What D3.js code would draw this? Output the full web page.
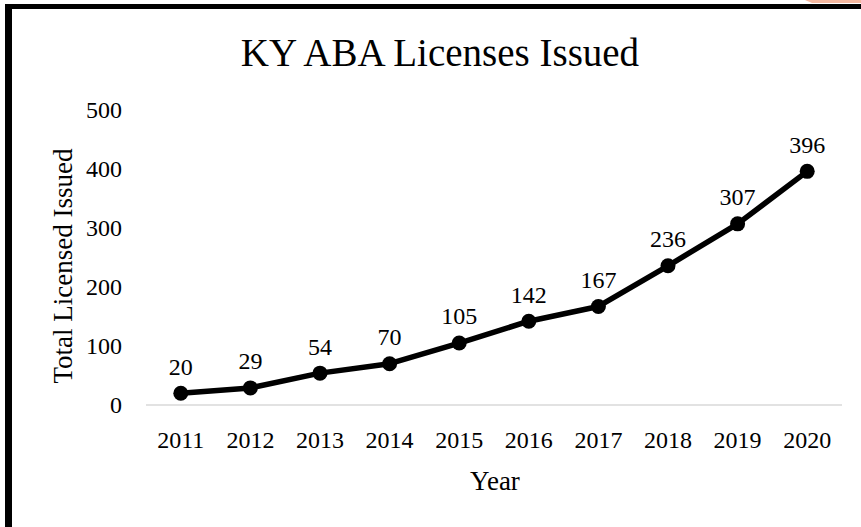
<!DOCTYPE html>
<html>
<head>
<script src="https://cdn.jsdelivr.net/npm/d3@7"></script>
<style>
  body { margin: 0; background: #fff; }
  svg text { font-family: "Liberation Serif", "DejaVu Serif", serif; fill: #000; }
  .grid line { stroke: #d9d9d9; stroke-width: 1.5; }
</style>
</head>
<body>
<svg id="chart" width="861" height="527"></svg>
<script>
var years = ["2011", "2012", "2013", "2014", "2015", "2016", "2017", "2018", "2019", "2020"];
var licenses = [20, 29, 54, 70, 105, 142, 167, 236, 307, 396];
var yTicks = [0, 100, 200, 300, 400, 500];

var svg = d3.select("#chart");

// frame bits from the screenshot
svg.append("path").attr("d", "M805,0 L861,0 L861,3 L812,3 Z").attr("fill", "#f4b8a0");
svg.append("rect").attr("x", 5).attr("y", 4).attr("width", 856).attr("height", 5).attr("fill", "#000");
svg.append("rect").attr("x", 5).attr("y", 4).attr("width", 7).attr("height", 523).attr("fill", "#000");

var x = d3.scaleBand().domain(years).range([146, 842]);
var y = d3.scaleLinear().domain([0, 500]).range([405, 110]);

// baseline gridline
svg.append("g").attr("class", "grid")
  .append("line")
  .attr("x1", x.range()[0]).attr("x2", x.range()[1])
  .attr("y1", y(0)).attr("y2", y(0));

// y tick labels
svg.append("g").selectAll("text").data(yTicks).enter().append("text")
  .attr("x", 122).attr("y", function(d){ return y(d); })
  .attr("dy", "0.35em").attr("text-anchor", "end")
  .style("font-size", "24px")
  .text(function(d){ return d; });

// x tick labels
svg.append("g").selectAll("text").data(years).enter().append("text")
  .attr("x", function(d){ return x(d) + x.bandwidth() / 2; })
  .attr("y", 440).attr("dy", "0.35em").attr("text-anchor", "middle")
  .style("font-size", "24px")
  .text(function(d){ return d; });

var pts = years.map(function(d, i){ return {year: d, v: licenses[i]}; });

var line = d3.line()
  .x(function(d){ return x(d.year) + x.bandwidth() / 2; })
  .y(function(d){ return y(d.v); });

svg.append("path").datum(pts)
  .attr("d", line).attr("fill", "none")
  .attr("stroke", "#000").attr("stroke-width", 5.5).attr("stroke-linejoin", "round");

svg.append("g").selectAll("circle").data(pts).enter().append("circle")
  .attr("cx", function(d){ return x(d.year) + x.bandwidth() / 2; })
  .attr("cy", function(d){ return y(d.v); })
  .attr("r", 7.5).attr("fill", "#000");

svg.append("g").selectAll("text").data(pts).enter().append("text")
  .attr("x", function(d){ return x(d.year) + x.bandwidth() / 2; })
  .attr("y", function(d){ return y(d.v) - 27; })
  .attr("dy", "0.35em").attr("text-anchor", "middle")
  .style("font-size", "24px")
  .text(function(d){ return d.v; });

// titles
svg.append("text").attr("x", 440).attr("y", 66)
  .attr("text-anchor", "middle").style("font-size", "39px")
  .text("KY ABA Licenses Issued");

svg.append("text").attr("x", 495).attr("y", 490)
  .attr("text-anchor", "middle").style("font-size", "27px")
  .text("Year");

svg.append("text")
  .attr("transform", "translate(72,266) rotate(-90)")
  .attr("text-anchor", "middle").style("font-size", "27px")
  .text("Total Licensed Issued");
</script>
</body>
</html>
